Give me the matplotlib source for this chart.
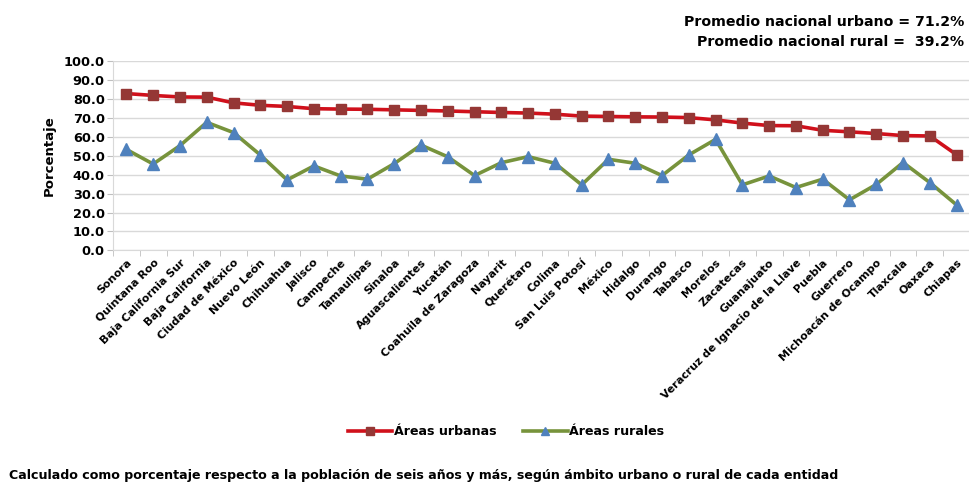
import matplotlib
matplotlib.use("Agg")
import matplotlib.pyplot as plt
import numpy as np

plt.rcParams['font.family'] = ['DejaVu Sans']

states = ["Sonora", "Quintana Roo", "Baja California Sur", "Baja California",
          "Ciudad de México", "Nuevo León", "Chihuahua", "Jalisco", "Campeche",
          "Tamaulipas", "Sinaloa", "Aguascalientes", "Yucatán",
          "Coahuila de Zaragoza", "Nayarit", "Querétaro", "Colima",
          "San Luis Potosí", "México", "Hidalgo", "Durango", "Tabasco",
          "Morelos", "Zacatecas", "Guanajuato", "Veracruz de Ignacio de la Llave",
          "Puebla", "Guerrero", "Michoacán de Ocampo", "Tlaxcala", "Oaxaca",
          "Chiapas"]
urbanas = [82.8, 81.8, 81.0, 80.9, 77.9, 76.6, 76.0, 74.8, 74.6, 74.5, 74.2,
           73.9, 73.6, 73.2, 72.8, 72.5, 71.9, 70.9, 70.7, 70.5, 70.4, 70.1,
           68.9, 67.2, 65.9, 65.8, 63.4, 62.6, 61.7, 60.6, 60.4, 50.5]
rurales = [53.3, 45.6, 55.3, 67.6, 62.2, 50.4, 37.2, 44.6, 39.3, 37.6, 45.8,
           55.6, 49.4, 39.5, 46.3, 49.5, 46.0, 34.6, 48.1, 46.0, 39.5, 50.4,
           58.6, 34.6, 39.3, 33.2, 37.6, 26.7, 34.8, 46.4, 35.8, 24.0]
yticks = np.arange(0, 101, 10)

fig = plt.figure(figsize=(9.7, 4.82), dpi=100)
ax = fig.add_axes([0.1165, 0.4805, 0.8835, 0.393])

x = np.arange(len(states))
l1, = ax.plot(x, urbanas, color='#D0101B', lw=2.6, marker='s', ms=7.5,
              mfc='#953735', mec='#953735', label='Áreas urbanas', zorder=3)
l2, = ax.plot(x, rurales, color='#77933C', lw=2.6, marker='^', ms=8,
              mfc='#4F81BD', mec='#4F81BD', label='Áreas rurales', zorder=3)

ax.set_xlim(-0.5, len(states) - 0.5)
ax.set_ylim(0, 100)
ax.set_yticks(yticks)
ax.set_yticklabels([f"{v:.1f}" for v in yticks], fontsize=9.3, fontweight='bold')
ax.yaxis.grid(True, color='#D9D9D9', lw=1)
ax.set_axisbelow(True)

ax.set_xticks(x)
ax.set_xticklabels(states, rotation=45, ha='right', rotation_mode='anchor',
                   fontsize=7.9, fontweight='bold')
ax.set_xticks(np.arange(-0.5, len(states), 1), minor=True)
ax.tick_params(axis='x', which='major', length=0, pad=5)
ax.tick_params(axis='x', which='minor', length=4, color='#BFBFBF')
ax.tick_params(axis='y', length=4, color='#BFBFBF', pad=2)

for s in ['top', 'right']:
    ax.spines[s].set_visible(False)
ax.spines['left'].set_color('#D9D9D9')
ax.spines['bottom'].set_color('#D9D9D9')

ax.set_ylabel('Porcentaje', fontsize=9.5, fontweight='bold', labelpad=6)

fig.text(0.994, 0.955, 'Promedio nacional urbano = 71.2%', ha='right',
         va='center', fontsize=10.2, fontweight='bold')
fig.text(0.994, 0.913, 'Promedio nacional rural =  39.2%', ha='right',
         va='center', fontsize=10.2, fontweight='bold')

fig.legend(handles=[l1, l2], loc='center', bbox_to_anchor=(0.522, 0.104), ncol=2,
           frameon=False, prop={'weight': 'bold', 'size': 9.1}, handlelength=3.5,
           columnspacing=2.1, handletextpad=0.15, markerscale=0.7)

fig.text(0.009, 0.0145, 'Calculado como porcentaje respecto a la población de seis años y más, '
         'según ámbito urbano o rural de cada entidad', ha='left', va='center',
         fontsize=9.05, fontweight='bold')

fig.savefig('out.png', dpi=100)
